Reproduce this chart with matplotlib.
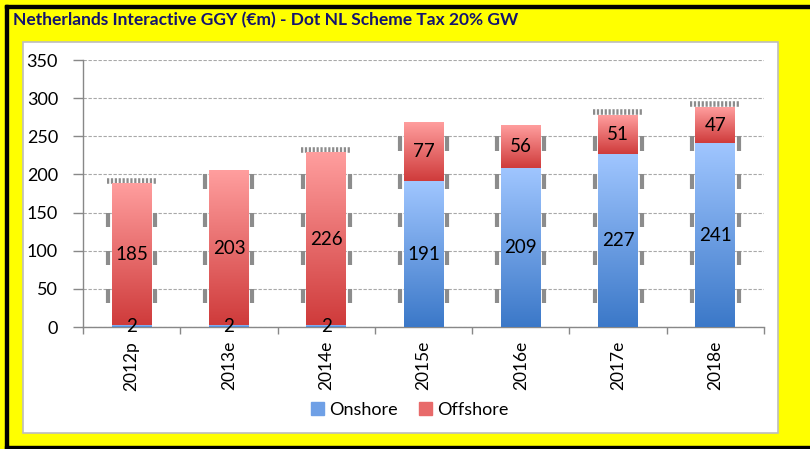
import numpy as np
import matplotlib
matplotlib.use('Agg')
import matplotlib.pyplot as plt
from matplotlib.patches import Rectangle
from matplotlib.colors import LinearSegmentedColormap

plt.rcParams['font.family'] = ['Lato', 'DejaVu Sans']

# data
years = ['2012p', '2013e', '2014e', '2015e', '2016e', '2017e', '2018e']
onshore = [2, 2, 2, 191, 209, 227, 241]
offshore = [185, 203, 226, 77, 56, 51, 47]
# the odd dotted cap above some bars in the original
top_cap = [True, False, True, False, False, True, True]

title = 'Netherlands Interactive GGY (€m) - Dot NL Scheme Tax 20% GW'

W, H = 810, 449
fig = plt.figure(figsize=(W / 100, H / 100), dpi=100)
fig.patch.set_facecolor('#FFFF00')

# black frame (left, top, bottom) and white inner panel
frame = [(5, 0, 3, H - 5), (5, H - 8, W - 5, 3), (5, 0, W - 5, 3)]
for fx, fy, fw, fh in frame:
    fig.patches.append(Rectangle((fx / W, fy / H), fw / W, fh / H, transform=fig.transFigure,
                                 color='black', zorder=-2))
fig.patches.append(Rectangle((22.5 / W, (H - 433) / H), (778 - 22.5) / W, (433 - 42) / H,
                             transform=fig.transFigure, facecolor='white',
                             edgecolor='#BDBDBD', lw=1.2, zorder=-1))

fig.text(13 / W, 1 - 20 / H, title, color='#14146E', fontsize=12.5, fontweight='bold',
         va='center', ha='left')

ax = fig.add_axes([83 / W, 122 / H, 681 / W, 267 / H])
ax.set_facecolor('none')

blue = LinearSegmentedColormap.from_list('b', ['#3B78C8', '#A0C6FF'])
red = LinearSegmentedColormap.from_list('r', ['#CF3B3B', '#FF9E9E'])
grad = np.linspace(0, 1, 256).reshape(-1, 1)

bw = 0.41
dx = 0.036
x = np.arange(len(years))

for i in x:
    segs = [(0, onshore[i], blue), (onshore[i], onshore[i] + offshore[i], red)]
    for lo, hi, cm in segs:
        ax.imshow(grad, cmap=cm, origin='lower', aspect='auto', zorder=3,
                  extent=[i - bw / 2, i + bw / 2, lo, hi], interpolation='bicubic')
    total = onshore[i] + offshore[i]
    # grey dashes beside the bars
    for g in range(50, 351, 50):
        if g <= total:
            ax.vlines([i - bw / 2 - dx, i + bw / 2 + dx], g - 19, g, color='#8C8C8C',
                      lw=3, zorder=2)
    if top_cap[i]:
        ax.hlines(total + 4, i - bw / 2 - dx - 0.015, i + bw / 2 + dx + 0.015,
                  color='#8C8C8C', lw=4, linestyles=(0, (0.4, 0.3)), zorder=2)
    ax.text(i, onshore[i] / 2, str(onshore[i]), ha='center', va='center',
            fontsize=13.5, zorder=5)
    ax.text(i, onshore[i] + offshore[i] / 2, str(offshore[i]), ha='center', va='center',
            fontsize=13.5, zorder=5)

ax.set_xlim(-0.5, len(years) - 0.5)
ax.set_ylim(0, 350)
ax.set_yticks(range(0, 351, 50))
ax.tick_params(axis='y', labelsize=13, colors='#888888', labelcolor='black',
               length=7, width=1, pad=11)
ax.set_xticks(x)
ax.set_xticklabels(years, rotation=90, fontsize=12.5)
ax.set_xticks(np.arange(-0.5, len(years), 1), minor=True)
ax.tick_params(axis='x', which='major', length=0, pad=10)
ax.tick_params(axis='x', which='minor', length=5, color='#888888', width=1)
ax.grid(axis='y', color='#A8A8A8', lw=0.8, linestyle=(0, (3, 1.5)), zorder=1)
for s in ['top', 'right']:
    ax.spines[s].set_visible(False)
for s in ['left', 'bottom']:
    ax.spines[s].set_color('#888888')
    ax.spines[s].set_linewidth(1)

handles = [Rectangle((0, 0), 1, 1, color='#6FA0E6'), Rectangle((0, 0), 1, 1, color='#E86A6A')]
fig.legend(handles, ['Onshore', 'Offshore'], loc='center', bbox_to_anchor=(410 / W, 1 - 410 / H),
           ncol=2, frameon=False, fontsize=13, handlelength=0.7, handleheight=0.7,
           handletextpad=0.3, columnspacing=1.2)

fig.savefig('out.png', dpi=100, facecolor=fig.get_facecolor())
